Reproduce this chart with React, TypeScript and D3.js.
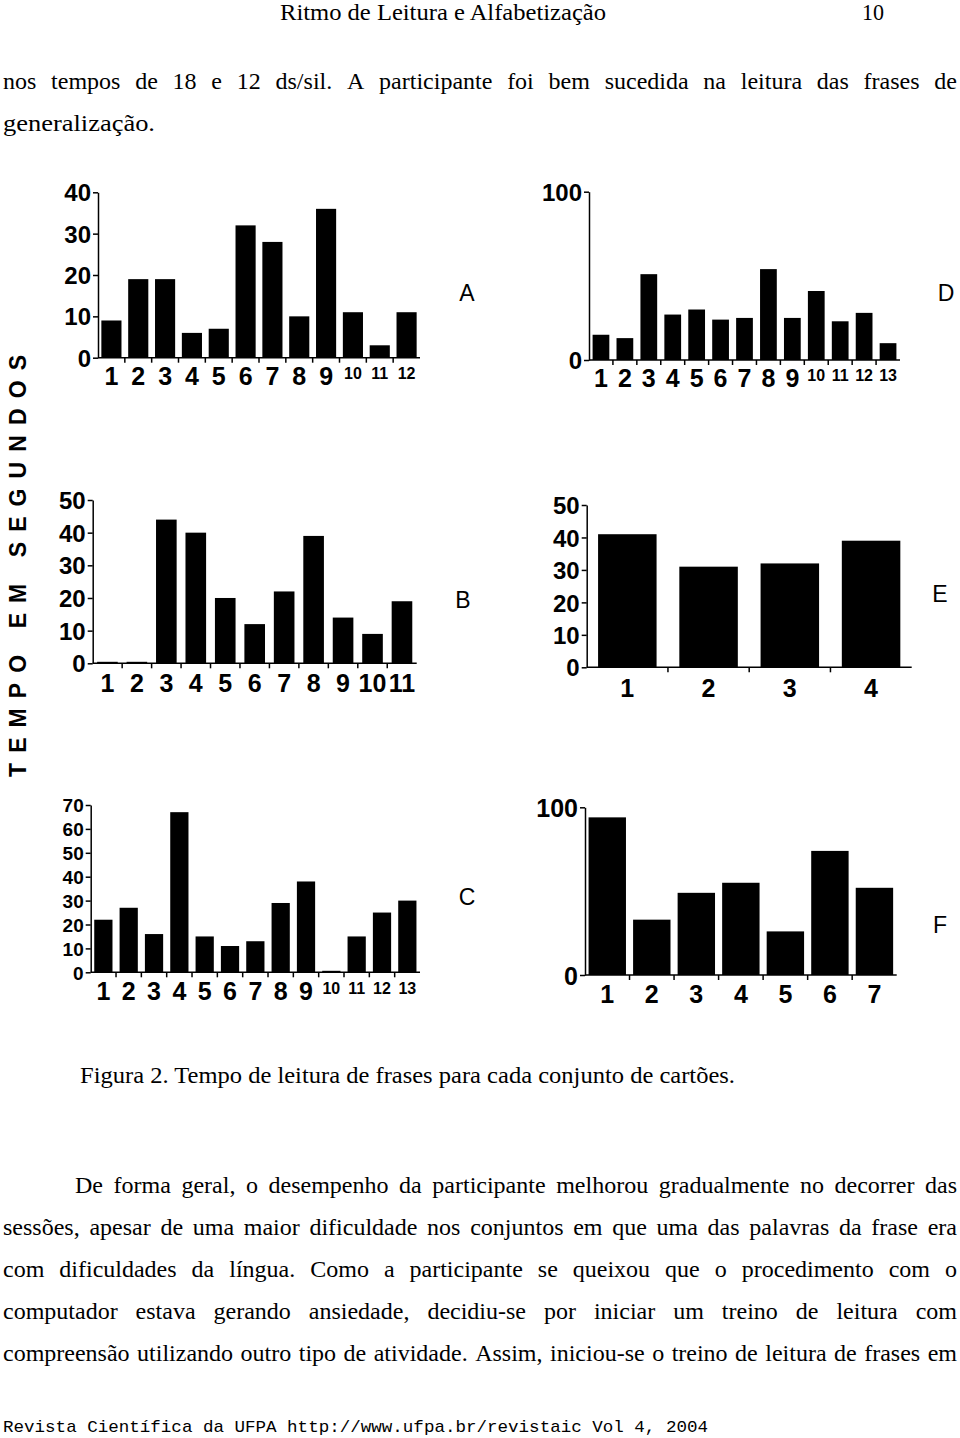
import React, { useEffect, useRef } from 'react';
import * as d3 from 'd3';

// ---------- DATA ----------
const catsA = ['1', '2', '3', '4', '5', '6', '7', '8', '9', '10', '11', '12'];
const valuesA = [9, 19, 19, 6, 7, 32, 28, 10, 36, 11, 3, 11];
const ticksA = [0, 10, 20, 30, 40];

const catsB = ['1', '2', '3', '4', '5', '6', '7', '8', '9', '10', '11'];
const valuesB = [0, 0, 44, 40, 20, 12, 22, 39, 14, 9, 19];
const ticksB = [0, 10, 20, 30, 40, 50];

const catsC = ['1', '2', '3', '4', '5', '6', '7', '8', '9', '10', '11', '12', '13'];
const valuesC = [22, 27, 16, 67, 15, 11, 13, 29, 38, 0, 15, 25, 30];
const ticksC = [0, 10, 20, 30, 40, 50, 60, 70];

const catsD = ['1', '2', '3', '4', '5', '6', '7', '8', '9', '10', '11', '12', '13'];
const valuesD = [15, 13, 51, 27, 30, 24, 25, 54, 25, 41, 23, 28, 10];
const ticksD = [0, 100];

const catsE = ['1', '2', '3', '4'];
const valuesE = [41, 31, 32, 39];
const ticksE = [0, 10, 20, 30, 40, 50];

const catsF = ['1', '2', '3', '4', '5', '6', '7'];
const valuesF = [94, 33, 49, 55, 26, 74, 52];
const ticksF = [0, 100];

const panelLetters = ['A', 'B', 'C', 'D', 'E', 'F'];
const yAxisTitle = 'TEMPO EM SEGUNDOS';

const headerTitle = 'Ritmo de Leitura e Alfabetização';
const headerPage = '10';
const topLines = [
  'nos tempos de 18 e 12 ds/sil. A participante foi bem sucedida na leitura das frases de',
  'generalização.',
];
const caption = 'Figura 2. Tempo de leitura de frases para cada conjunto de cartões.';
const paragraph = [
  'De forma geral, o desempenho da participante melhorou gradualmente no decorrer das',
  'sessões, apesar de uma maior dificuldade nos conjuntos em que uma das palavras da frase era',
  'com dificuldades da língua. Como a participante se queixou que o procedimento com o',
  'computador estava gerando ansiedade, decidiu-se por iniciar um treino de leitura com',
  'compreensão utilizando outro tipo de atividade. Assim, iniciou-se o treino de leitura de frases em',
];
const footer = 'Revista Científica da UFPA http://www.ufpa.br/revistaic Vol 4,  2004';

// ---------- LAYOUT ----------
const SANS = "'Liberation Sans', Arial, sans-serif";
const SERIF = "'Liberation Serif', 'Times New Roman', serif";
const MONO = "'Liberation Mono', 'Courier New', monospace";
const BODY = 24;

type Panel = {
  cats: string[]; values: number[]; ticks: number[]; max: number;
  x0: number; x1: number; yTop: number; yZero: number; pad: number;
  yFont: number; xBase: number; smallFrom: number; letter: string; lx: number; ly: number;
};

const panels: Panel[] = [
  { cats: catsA, values: valuesA, ticks: ticksA, max: 40, x0: 98, x1: 420, yTop: 192.3, yZero: 357.7, pad: 0.25, yFont: 24, xBase: 385, smallFrom: 9, letter: panelLetters[0], lx: 467, ly: 301 },
  { cats: catsB, values: valuesB, ticks: ticksB, max: 50, x0: 92.7, x1: 416.7, yTop: 500, yZero: 663.3, pad: 0.3, yFont: 24, xBase: 692, smallFrom: 99, letter: panelLetters[1], lx: 463, ly: 608 },
  { cats: catsC, values: valuesC, ticks: ticksC, max: 70, x0: 90.7, x1: 420, yTop: 805, yZero: 972.3, pad: 0.28, yFont: 19, xBase: 1000, smallFrom: 9, letter: panelLetters[2], lx: 467, ly: 905 },
  { cats: catsD, values: valuesD, ticks: ticksD, max: 100, x0: 589, x1: 900, yTop: 191.7, yZero: 360, pad: 0.3, yFont: 24, xBase: 387, smallFrom: 9, letter: panelLetters[3], lx: 946, ly: 301 },
  { cats: catsE, values: valuesE, ticks: ticksE, max: 50, x0: 586.7, x1: 911.7, yTop: 505, yZero: 667.3, pad: 0.28, yFont: 24, xBase: 697, smallFrom: 99, letter: panelLetters[4], lx: 940, ly: 602 },
  { cats: catsF, values: valuesF, ticks: ticksF, max: 100, x0: 585, x1: 896.7, yTop: 807.3, yZero: 975, pad: 0.16, yFont: 25, xBase: 1003, smallFrom: 99, letter: panelLetters[5], lx: 940, ly: 933 },
];

export default function App() {
  const ref = useRef<SVGSVGElement>(null);

  useEffect(() => {
    const svg = d3.select(ref.current as SVGSVGElement);
    svg.selectAll('*').remove();

    svg.append('rect').attr('width', 960).attr('height', 1438).attr('fill', '#fff');

    // ---- charts ----
    panels.forEach((p) => {
      const g = svg.append('g');
      const x = d3.scaleBand<string>().domain(p.cats).range([p.x0, p.x1]).paddingInner(p.pad).paddingOuter(p.pad / 2);
      const y = d3.scaleLinear().domain([0, p.max]).range([p.yZero, p.yTop]);

      // bars
      g.selectAll('rect.bar')
        .data(p.values)
        .join('rect')
        .attr('class', 'bar')
        .attr('x', (_, i) => x(p.cats[i]) as number)
        .attr('width', x.bandwidth())
        .attr('y', (d) => Math.min(y(d), p.yZero - 1.5))
        .attr('height', (d) => Math.max(p.yZero - y(d), 1.5))
        .attr('fill', '#000');

      // y axis
      const ya = d3.axisLeft(y).tickValues(p.ticks).tickSize(5).tickSizeOuter(0).tickPadding(2).tickFormat(d3.format('d'));
      const yg = g.append('g').attr('transform', `translate(${p.x0},0)`).call(ya);
      yg.select('.domain').attr('stroke', '#000').attr('stroke-width', 1.5);
      yg.selectAll('.tick line').attr('stroke', '#000').attr('stroke-width', 1.5);
      yg.selectAll('.tick text')
        .attr('font-family', SANS)
        .attr('font-weight', 'bold')
        .attr('font-size', p.yFont)
        .attr('fill', '#000')
        .attr('dy', '0.36em');

      // x axis line
      g.append('line')
        .attr('x1', p.x0).attr('x2', p.x1)
        .attr('y1', p.yZero).attr('y2', p.yZero)
        .attr('stroke', '#000').attr('stroke-width', 1.5);
      // boundary ticks
      const step = x.step();
      d3.range(1, p.cats.length).forEach((i) => {
        const bx = (x(p.cats[0]) as number) - (step * p.pad) / 2 + i * step;
        g.append('line')
          .attr('x1', bx).attr('x2', bx)
          .attr('y1', p.yZero).attr('y2', p.yZero + 5)
          .attr('stroke', '#000').attr('stroke-width', 1.5);
      });
      // x labels
      g.selectAll('text.xl')
        .data(p.cats)
        .join('text')
        .attr('class', 'xl')
        .attr('x', (c) => (x(c) as number) + x.bandwidth() / 2)
        .attr('y', (_, i) => (i >= p.smallFrom ? p.xBase - 6 : p.xBase))
        .attr('text-anchor', 'middle')
        .attr('font-family', SANS)
        .attr('font-weight', 'bold')
        .attr('font-size', (_, i) => (i >= p.smallFrom ? 16 : 25))
        .attr('fill', '#000')
        .text((c) => c);

      // panel letter
      g.append('text')
        .attr('x', p.lx).attr('y', p.ly)
        .attr('text-anchor', 'middle')
        .attr('font-family', SANS)
        .attr('font-size', 23)
        .attr('fill', '#000')
        .text(p.letter);
    });

    // y axis title (rotated)
    svg.append('text')
      .attr('transform', 'translate(26,566) rotate(-90)')
      .attr('text-anchor', 'middle')
      .attr('font-family', SANS)
      .attr('font-weight', 'bold')
      .attr('font-size', 23)
      .attr('textLength', 422)
      .attr('lengthAdjust', 'spacing')
      .attr('fill', '#000')
      .text(yAxisTitle);

    // ---- page text ----
    const plain = (txt: string, x0: number, base: number, width: number, font: string, size: number, adjust = 'spacingAndGlyphs') => {
      svg.append('text')
        .attr('x', x0).attr('y', base)
        .attr('font-family', font)
        .attr('font-size', size)
        .attr('textLength', width)
        .attr('lengthAdjust', adjust)
        .attr('fill', '#000')
        .text(txt);
    };

    const justified = (txt: string, x0: number, x1: number, base: number, size: number) => {
      const words = txt.split(' ');
      const nodes = words.map((w) =>
        svg.append('text')
          .attr('y', base)
          .attr('font-family', SERIF)
          .attr('font-size', size)
          .attr('fill', '#000')
          .text(w)
      );
      const widths = nodes.map((n) => (n.node() as SVGTextElement).getComputedTextLength());
      const total = widths.reduce((a, b) => a + b, 0);
      let gap = (x1 - x0 - total) / (words.length - 1);
      let scale = 1;
      if (gap < 4) {
        gap = 4;
        scale = (x1 - x0 - gap * (words.length - 1)) / total;
      }
      let cx = x0;
      nodes.forEach((n, i) => {
        n.attr('x', cx);
        if (scale !== 1) n.attr('textLength', widths[i] * scale).attr('lengthAdjust', 'spacingAndGlyphs');
        cx += widths[i] * scale + gap;
      });
    };

    plain(headerTitle, 280, 20, 326, SERIF, BODY);
    plain(headerPage, 862, 20, 22, SERIF, BODY);

    justified(topLines[0], 3, 957, 89, BODY);
    plain(topLines[1], 3, 131, 152, SERIF, BODY);

    plain(caption, 80, 1083, 655, SERIF, 23);

    justified(paragraph[0], 75, 957, 1193, BODY);
    justified(paragraph[1], 3, 957, 1235, BODY);
    justified(paragraph[2], 3, 957, 1277, BODY);
    justified(paragraph[3], 3, 957, 1319, BODY);
    justified(paragraph[4], 3, 957, 1361, BODY);

    plain(footer, 3, 1432, 705, MONO, 17);
  }, []);

  return (
    <svg
      ref={ref}
      width={960}
      height={1438}
      style={{ position: 'absolute', left: 0, top: 0, display: 'block' }}
    />
  );
}
